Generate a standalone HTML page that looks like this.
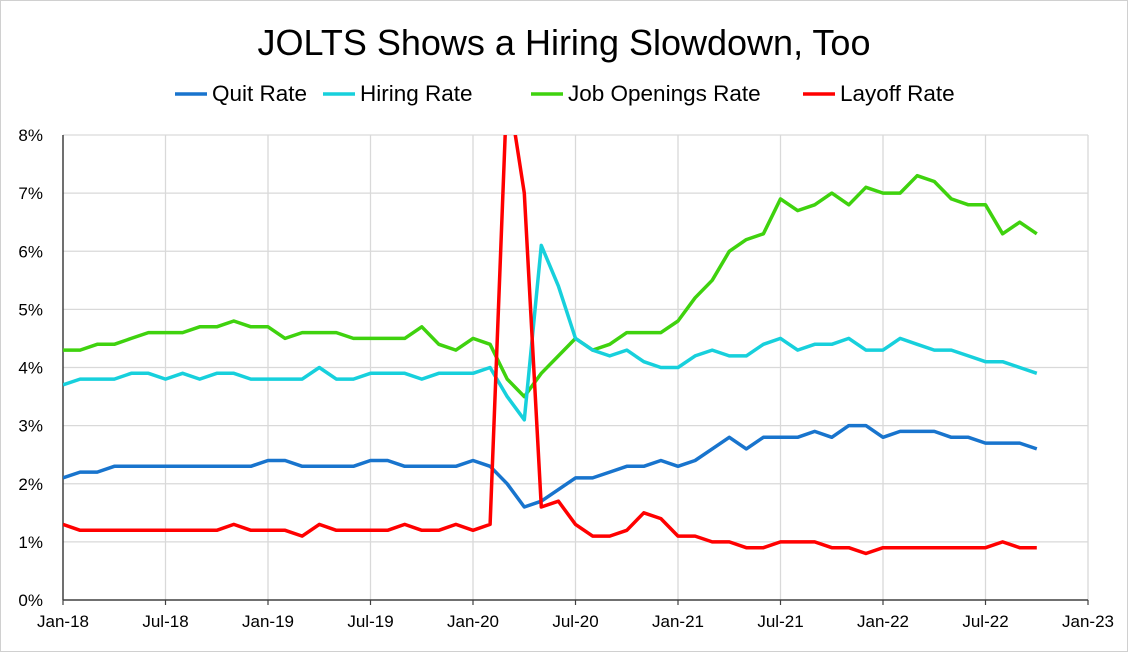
<!DOCTYPE html>
<html><head><meta charset="utf-8"><style>
body{margin:0;background:#fff;font-family:"Liberation Sans",sans-serif}
#wrap{position:relative;width:1126px;height:650px;border:1px solid #d0d0d0;background:#fff}
svg text{font-family:"Liberation Sans",sans-serif}
</style></head><body>
<div id="wrap">
<svg id="chart" width="1126" height="650"></svg>
</div>
<script>
const tickLabelsX=["Jan-18","Jul-18","Jan-19","Jul-19","Jan-20","Jul-20","Jan-21","Jul-21","Jan-22","Jul-22","Jan-23"];
const tickLabelsY=["0%","1%","2%","3%","4%","5%","6%","7%","8%"];
const seriesNames=["Quit Rate","Hiring Rate","Job Openings Rate","Layoff Rate"];
const quitRate=[2.1,2.2,2.2,2.3,2.3,2.3,2.3,2.3,2.3,2.3,2.3,2.3, 2.4,2.4,2.3,2.3,2.3,2.3,2.4,2.4,2.3,2.3,2.3,2.3, 2.4,2.3,2.0,1.6,1.7,1.9,2.1,2.1,2.2,2.3,2.3,2.4, 2.3,2.4,2.6,2.8,2.6,2.8,2.8,2.8,2.9,2.8,3.0,3.0, 2.8,2.9,2.9,2.9,2.8,2.8,2.7,2.7,2.7,2.6];
const hiringRate=[3.7,3.8,3.8,3.8,3.9,3.9,3.8,3.9,3.8,3.9,3.9,3.8, 3.8,3.8,3.8,4.0,3.8,3.8,3.9,3.9,3.9,3.8,3.9,3.9, 3.9,4.0,3.5,3.1,6.1,5.4,4.5,4.3,4.2,4.3,4.1,4.0, 4.0,4.2,4.3,4.2,4.2,4.4,4.5,4.3,4.4,4.4,4.5,4.3, 4.3,4.5,4.4,4.3,4.3,4.2,4.1,4.1,4.0,3.9];
const openingsRate=[4.3,4.3,4.4,4.4,4.5,4.6,4.6,4.6,4.7,4.7,4.8,4.7, 4.7,4.5,4.6,4.6,4.6,4.5,4.5,4.5,4.5,4.7,4.4,4.3, 4.5,4.4,3.8,3.5,3.9,4.2,4.5,4.3,4.4,4.6,4.6,4.6, 4.8,5.2,5.5,6.0,6.2,6.3,6.9,6.7,6.8,7.0,6.8,7.1, 7.0,7.0,7.3,7.2,6.9,6.8,6.8,6.3,6.5,6.3];
const layoffRate=[1.3,1.2,1.2,1.2,1.2,1.2,1.2,1.2,1.2,1.2,1.3,1.2, 1.2,1.2,1.1,1.3,1.2,1.2,1.2,1.2,1.3,1.2,1.2,1.3, 1.2,1.3,8.9,7.0,1.6,1.7,1.3,1.1,1.1,1.2,1.5,1.4, 1.1,1.1,1.0,1.0,0.9,0.9,1.0,1.0,1.0,0.9,0.9,0.8, 0.9,0.9,0.9,0.9,0.9,0.9,0.9,1.0,0.9,0.9];

const NS="http://www.w3.org/2000/svg";
const svg=document.getElementById('chart');
const L=62,R=1087,T=134,B=599;
const xS=m=>L+(R-L)*m/60;
const yS=v=>B-(B-T)*v/8;
function mk(tag,attrs,parent){const e=document.createElementNS(NS,tag);for(const k in attrs)e.setAttribute(k,attrs[k]);(parent||svg).appendChild(e);return e;}

const defs=mk('defs',{});
const cp=mk('clipPath',{id:'plotclip'},defs);
mk('rect',{x:L,y:T,width:R-L,height:B-T},cp);

const title=mk('text',{x:563,y:54,'text-anchor':'middle','font-size':36,fill:'#000'});
title.textContent="JOLTS Shows a Hiring Slowdown, Too";



const grid=mk('g',{});


tickLabelsY.forEach((t,i)=>{
  if(i>0){mk('line',{x1:L,x2:R,y1:yS(i),y2:yS(i),stroke:'#d9d9d9','stroke-width':1.3},grid);}
  const tx=mk('text',{x:L-20,y:yS(i)+6,'text-anchor':'end','font-size':17,fill:'#000'});
  tx.textContent=t;
  
  
});
tickLabelsX.forEach((t,i)=>{
  const x=xS(i*6);
  if(i>0)mk('line',{x1:x,x2:x,y1:T,y2:B,stroke:'#d9d9d9','stroke-width':1.3},grid);
  const tx=mk('text',{x:x,y:B+27,'text-anchor':'middle','font-size':17,fill:'#000'});
  tx.textContent=t;
  
  
});
const ax=mk('line',{x1:L,x2:L,y1:T,y2:B,stroke:'#404040','stroke-width':1.5});


const ax2=mk('line',{x1:L,x2:R,y1:B,y2:B,stroke:'#404040','stroke-width':1.5});


tickLabelsX.forEach((t,i)=>{mk('line',{x1:xS(i*6),x2:xS(i*6),y1:B,y2:B+5,stroke:'#404040','stroke-width':1.2});});

const colors=['#1874cd','#17d0dc','#3fd20e','#ff0000'];
const data=[quitRate,hiringRate,openingsRate,layoffRate];
const order=[2,1,0,3];
order.forEach(s=>{
  const pts=data[s].map((v,i)=>xS(i).toFixed(1)+','+yS(v).toFixed(1)).join(' ');
  const p=mk('polyline',{points:pts,fill:'none',stroke:colors[s],'stroke-width':3.5,'stroke-linejoin':'round','clip-path':'url(#plotclip)'});
  
  
});

const lx=[174,322,530,802];
seriesNames.forEach((n,i)=>{
  const g=mk('g',{});
  
  
  mk('line',{x1:lx[i],x2:lx[i]+32,y1:93,y2:93,stroke:colors[i],'stroke-width':3.5},g);
  const t=mk('text',{x:lx[i]+37,y:100,'font-size':22.5,fill:'#000'},g);
  t.textContent=n;
});
</script>
</body></html>
